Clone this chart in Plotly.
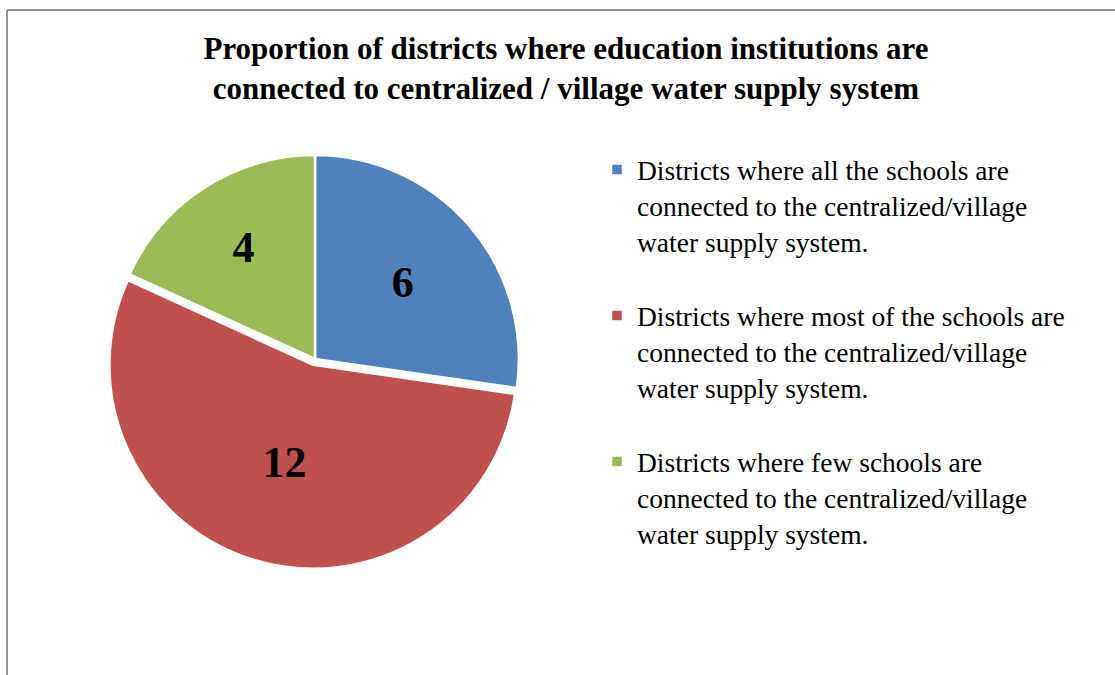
import plotly.graph_objects as go

labels = [
    "Districts where all the schools are<br>connected to the centralized/village<br>water supply system.<br> ",
    "Districts where most of the schools are<br>connected to the centralized/village<br>water supply system.<br> ",
    "Districts where few schools are<br>connected to the centralized/village<br>water supply system.<br> ",
]
values = [6, 12, 4]
colors = ["#4F81BD", "#C0504D", "#9BBB59"]
pulls = [0, 0.03, 0]

W, H = 1115, 675

fig = go.Figure(go.Pie(
    labels=labels,
    values=values,
    sort=False,
    direction="clockwise",
    rotation=0,
    pull=pulls,
    marker=dict(colors=colors, line=dict(color="white", width=2.5)),
    textinfo="value",
    textposition="inside",
    insidetextorientation="horizontal",
    textfont=dict(family="Liberation Serif", size=44, color="black", weight="bold"),
    domain=dict(x=[105 / W, 525 / W], y=[106 / H, 526 / H]),
    hoverinfo="label+value",
))

fig.update_layout(
    width=W, height=H,
    margin=dict(l=0, r=0, t=0, b=0),
    paper_bgcolor="white",
    title=dict(
        text="<b>Proportion of districts where education institutions are<br>connected to centralized / village water supply system</b>",
        x=566 / W, xanchor="center",
        y=1 - 59 / H, yanchor="top",
        font=dict(family="Liberation Serif", size=31, color="black"),
    ),
    legend=dict(
        x=597 / W, xanchor="left",
        y=1 - 145 / H, yanchor="top",
        font=dict(family="Liberation Serif", size=27.5, color="black"),
        valign="top",
        bgcolor="rgba(0,0,0,0)",
    ),
    shapes=[
        dict(type="line", xref="paper", yref="paper", x0=7 / W, x1=1, y0=1 - 10 / H, y1=1 - 10 / H,
             line=dict(color="#969696", width=2)),
        dict(type="line", xref="paper", yref="paper", x0=7 / W, x1=7 / W, y0=1 - 10 / H, y1=0,
             line=dict(color="#969696", width=2)),
    ],
)

fig.write_html("out.html")
